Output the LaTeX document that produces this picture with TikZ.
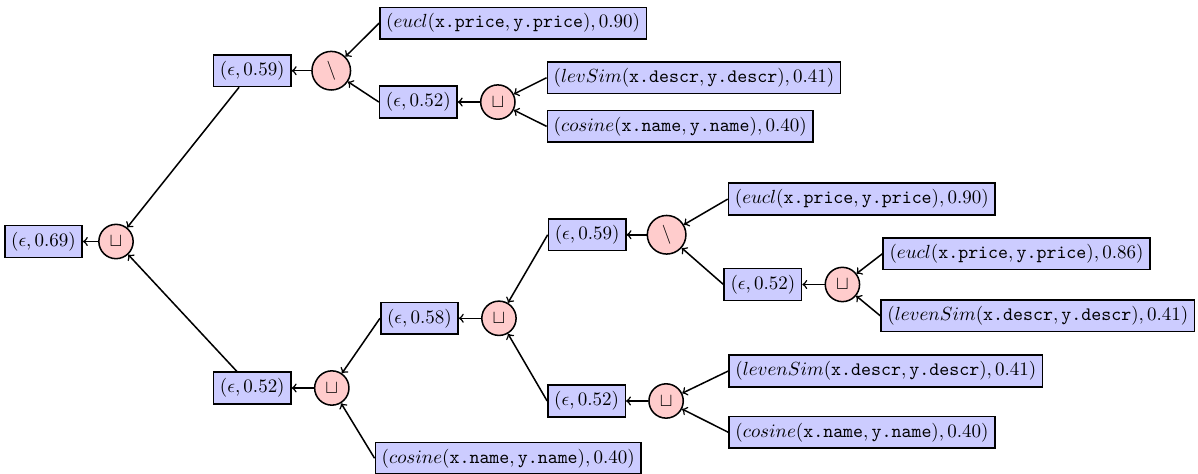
\documentclass[tikz,border=0pt]{standalone}
\usetikzlibrary{positioning}

\begin{document}
\begin{tikzpicture}[
    score/.style={rectangle, draw, thick, fill=blue!20},
    op/.style={circle, draw, thick, fill=red!20},
    every path/.append style={thick}
]
\useasboundingbox (-0.805,-4.283) rectangle (21.358,4.468);

% 根节点
\node[score] (root) at (0,0) {$(\epsilon, 0.69)$};
\node[op, right=0.28cm of root] (op0) {$\sqcup$};

% 上分支
\node[score, right=1.46cm of op0, yshift=3.16cm] (A) {$(\epsilon, 0.59)$};
\node[op, right=0.36cm of A] (opA) {$\setminus$};
\node[score, right=0.515cm of opA, yshift=0.88cm] (A1) {$(eucl(\texttt{x.price}, \texttt{y.price}), 0.90)$};
\node[score, right=0.51cm of opA, yshift=-0.58cm] (A2) {$(\epsilon, 0.52)$};
\node[op, right=0.41cm of A2] (opA2) {$\sqcup$};
\node[score, right=0.57cm of opA2, yshift=0.45cm] (A21) {$(levSim(\texttt{x.descr}, \texttt{y.descr}), 0.41)$};
\node[score, right=0.57cm of opA2, yshift=-0.45cm] (A22) {$(cosine(\texttt{x.name}, \texttt{y.name}), 0.40)$};

% 下分支
\node[score, right=1.46cm of op0, yshift=-2.71cm] (B) {$(\epsilon, 0.52)$};
\node[op, right=0.41cm of B] (opB) {$\sqcup$};
\node[score, right=0.56cm of opB, yshift=1.29cm] (B1) {$(\epsilon, 0.58)$};
\node[score, right=0.46cm of opB, yshift=-1.3cm] (B2) {$(cosine(\texttt{x.name}, \texttt{y.name}), 0.40)$};
\node[op, right=0.41cm of B1] (opB1) {$\sqcup$};
\node[score, right=0.57cm of opB1, yshift=1.545cm] (B11) {$(\epsilon, 0.59)$};
\node[score, right=0.56cm of opB1, yshift=-1.53cm] (B12) {$(\epsilon, 0.52)$};

\node[op, right=0.37cm of B11] (opB11) {$\setminus$};
\node[score, right=0.76cm of opB11, yshift=0.66cm] (B111) {$(eucl(\texttt{x.price}, \texttt{y.price}), 0.90)$};
\node[score, right=0.68cm of opB11, yshift=-0.92cm] (B112) {$(\epsilon, 0.52)$};
\node[op, right=0.41cm of B112] (opB112) {$\sqcup$};
\node[score, right=0.41cm of opB112, yshift=0.57cm] (B1121) {$(eucl(\texttt{x.price}, \texttt{y.price}), 0.86)$};
\node[score, right=0.37cm of opB112, yshift=-0.58cm] (B1122) {$(levenSim(\texttt{x.descr}, \texttt{y.descr}), 0.41)$};

\node[op, right=0.41cm of B12] (opB12) {$\sqcup$};
\node[score, right=0.82cm of opB12, yshift=0.555cm] (B121) {$(levenSim(\texttt{x.descr}, \texttt{y.descr}), 0.41)$};
\node[score, right=0.82cm of opB12, yshift=-0.58cm] (B122) {$(cosine(\texttt{x.name}, \texttt{y.name}), 0.40)$};

% 连接线
\draw[->] (op0) -- (root);
\draw[->] (A) -- (op0);
\draw[->] (B) -- (op0);

\draw[->] (opA) -- (A);
\draw[->] (A1.west) -- (opA);
\draw[->] (A2.west) -- (opA);
\draw[->] (opA2) -- (A2);
\draw[->] (A21.west) -- (opA2);
\draw[->] (A22.west) -- (opA2);

\draw[->] (opB) -- (B);
\draw[->] (B1.west) -- (opB);
\draw[->] (B2.west) -- (opB);
\draw[->] (opB1) -- (B1);
\draw[->] (B11.west) -- (opB1);
\draw[->] (B12.west) -- (opB1);

\draw[->] (opB11) -- (B11);
\draw[->] (B111.west) -- (opB11);
\draw[->] (B112.west) -- (opB11);
\draw[->] (opB112) -- (B112);
\draw[->] (B1121.west) -- (opB112);
\draw[->] (B1122.west) -- (opB112);

\draw[->] (opB12) -- (B12);
\draw[->] (B121.west) -- (opB12);
\draw[->] (B122.west) -- (opB12);

\end{tikzpicture}
\end{document}
